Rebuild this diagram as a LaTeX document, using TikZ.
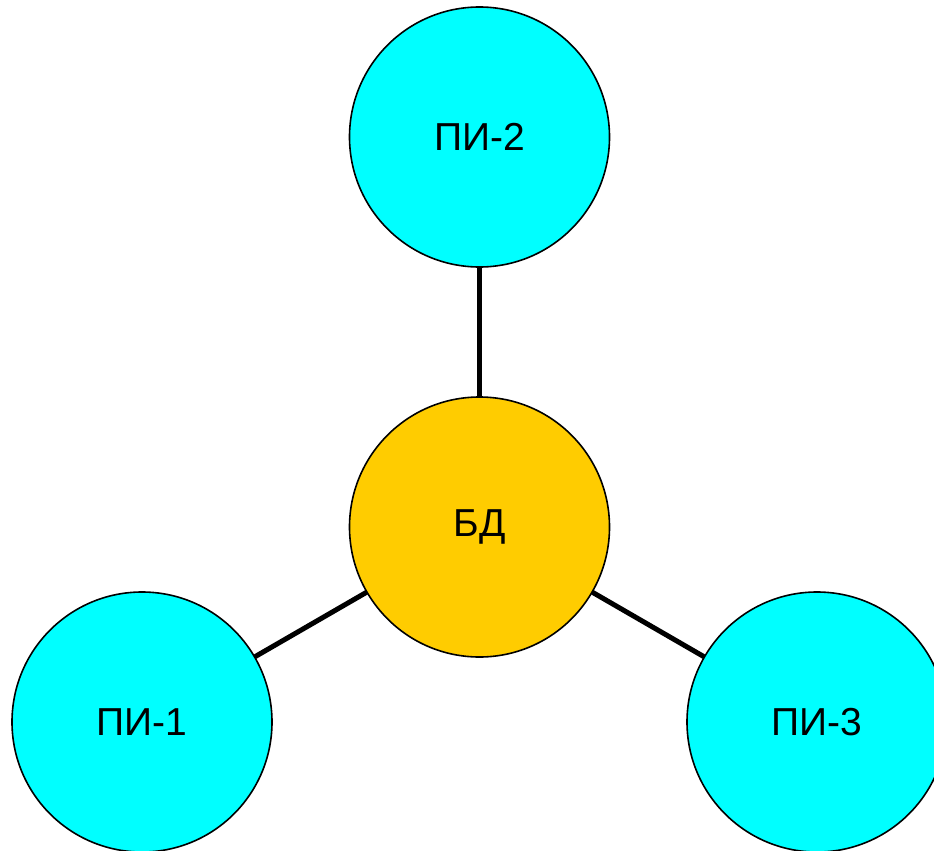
\documentclass[tikz,border=0pt]{standalone}
\usepackage{fontspec}
\setmainfont{Liberation Sans}
\usepackage{tikz}
\usetikzlibrary{positioning}
\definecolor{picyan}{HTML}{00FFFF}
\definecolor{dbgold}{HTML}{FFCC00}
\tikzstyle{pinode} = [circle, draw, line width=1.6pt, fill=picyan, inner sep=0pt,
                outer sep=0pt, minimum size=260pt, font=\fontsize{39}{47}\selectfont]
\tikzstyle{dbnode} = [pinode, fill=dbgold]
\tikzstyle{link} = [draw, line width=5pt]

\begin{document}
\begin{tikzpicture}[x=1pt,y=-1pt]
            \useasboundingbox (0,0) rectangle (934,851);
            \node[dbnode] (bd) at (479.5,527) {БД};
            \node[pinode, above=130pt of bd] (pi2) {ПИ-2};
            \node[pinode] (pi1) at (142,722) {ПИ-1};
            \node[pinode] (pi3) at (817,722) {ПИ-3};
            \path[link] (bd) -- (pi2);
            \path[link] (bd) -- (pi1);
            \path[link] (bd) -- (pi3);
        \end{tikzpicture}
\end{document}
